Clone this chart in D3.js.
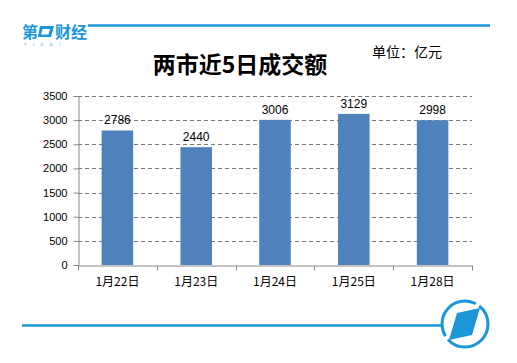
<!DOCTYPE html>
<html>
<head>
<meta charset="utf-8">
<script src="https://cdn.jsdelivr.net/npm/d3@7"></script>
<style>
  body { margin: 0; background: #fff; }
  svg { display: block; }
</style>
</head>
<body>
<div id="chart"></div>
<script>
"use strict";
const days = ["1月22日", "1月23日", "1月24日", "1月25日", "1月28日"];
const turnover = [2786, 2440, 3006, 3129, 2998];
const yTicks = [0, 500, 1000, 1500, 2000, 2500, 3000, 3500];

const width = 517, height = 363;
const blue = "#1a96d9";
const margin = {top: 96, right: 45, bottom: 98, left: 78};

const svg = d3.select("#chart").append("svg")
    .attr("width", width)
    .attr("height", height);

// frame lines
svg.append("line").attr("x1", 88).attr("x2", 490).attr("y1", 25.5).attr("y2", 25.5)
    .attr("stroke", blue).attr("stroke-width", 2.5);
svg.append("line").attr("x1", 22).attr("x2", 441).attr("y1", 325.5).attr("y2", 325.5)
    .attr("stroke", blue).attr("stroke-width", 2.5);

// logo top left
const logo = svg.append("g").attr("fill", blue);
logo.append("text").attr("x", 22).attr("y", 38).text("第")
    .style("font-family", "'Noto Sans CJK SC'").style("font-weight", "bold").style("font-size", "16px");
logo.append("path").attr("d", "M40,26 L54,26 L51,37 L38,37 Z M42.5,29 L50,29 L48.5,34.5 L41,34.5 Z")
    .attr("fill-rule", "evenodd");
logo.append("text").attr("x", 55).attr("y", 38).text("财经")
    .style("font-family", "'Noto Sans CJK SC'").style("font-weight", "bold").style("font-size", "16px");
logo.append("text").attr("x", 24).attr("y", 46).text("Y  I  C  A  I")
    .style("font-family", "'DejaVu Sans'").style("font-size", "4px").style("letter-spacing", "2.6px");

// logo bottom right
const icon = svg.append("g");
icon.append("circle").attr("cx", 465).attr("cy", 324).attr("r", 23)
    .attr("fill", "none").attr("stroke", blue).attr("stroke-width", 3)
    .attr("stroke-dasharray", "55 4 60 4");
icon.append("path").attr("d", "M457,313 L480,308 L472,335 L449,340 Z").attr("fill", blue);

// titles
svg.append("text").attr("x", 240).attr("y", 73).attr("text-anchor", "middle")
    .text("两市近5日成交额")
    .style("font-family", "'Noto Sans CJK SC'").style("font-weight", "bold").style("font-size", "23px");
svg.append("text").attr("x", 372).attr("y", 57)
    .text("单位：亿元")
    .style("font-family", "'Noto Sans CJK SC'").style("font-size", "14px");

const x = d3.scaleBand().domain(days).range([margin.left, width - margin.right]).paddingInner(0.6).paddingOuter(0.3);
const xb = d3.scaleBand().domain(days).range([margin.left, width - margin.right]);
const y = d3.scaleLinear().domain([0, 3500]).range([height - margin.bottom, margin.top]);

// gridlines
svg.append("g").selectAll("line").data(yTicks.slice(1)).join("line")
    .attr("x1", margin.left).attr("x2", width - margin.right)
    .attr("y1", d => Math.round(y(d)) + 0.5).attr("y2", d => Math.round(y(d)) + 0.5)
    .attr("stroke", "#777").attr("stroke-dasharray", "4 3");

// bars
svg.append("g").selectAll("rect").data(turnover).join("rect")
    .attr("x", (d, i) => x(days[i]))
    .attr("width", x.bandwidth())
    .attr("y", d => y(d))
    .attr("height", d => y(0) - y(d))
    .attr("fill", "#4f81bd");

// value labels
svg.append("g").selectAll("text").data(turnover).join("text")
    .attr("x", (d, i) => x(days[i]) + x.bandwidth() / 2)
    .attr("y", d => y(d) - 6)
    .attr("text-anchor", "middle")
    .text(d => d)
    .style("font-family", "'Liberation Sans'").style("font-size", "12px");

// y axis
const yAxis = svg.append("g").attr("transform", `translate(${margin.left + 0.5},0)`)
    .call(d3.axisLeft(y).tickValues(yTicks).tickFormat(d3.format("d")).tickSize(5).tickPadding(6));
yAxis.select(".domain").attr("stroke", "#888");
yAxis.selectAll(".tick line").attr("stroke", "#888");
yAxis.selectAll(".tick text").style("font-family", "'Liberation Sans'").style("font-size", "11px").attr("fill", "#000");

// x axis
const xAxis = svg.append("g").attr("transform", `translate(0,${y(0) + 0.5})`)
    .call(d3.axisBottom(xb).tickSize(0).tickPadding(12));
xAxis.select(".domain").attr("stroke", "#888");
xAxis.selectAll(".tick text").style("font-family", "'Noto Sans CJK SC'").style("font-size", "12px").attr("fill", "#000");
xAxis.append("g").selectAll("line").data(days.concat([null])).join("line")
    .attr("x1", (d, i) => Math.round(margin.left + i * xb.step()) + 0.5)
    .attr("x2", (d, i) => Math.round(margin.left + i * xb.step()) + 0.5)
    .attr("y1", 0).attr("y2", 5).attr("stroke", "#888");
</script>
</body>
</html>
